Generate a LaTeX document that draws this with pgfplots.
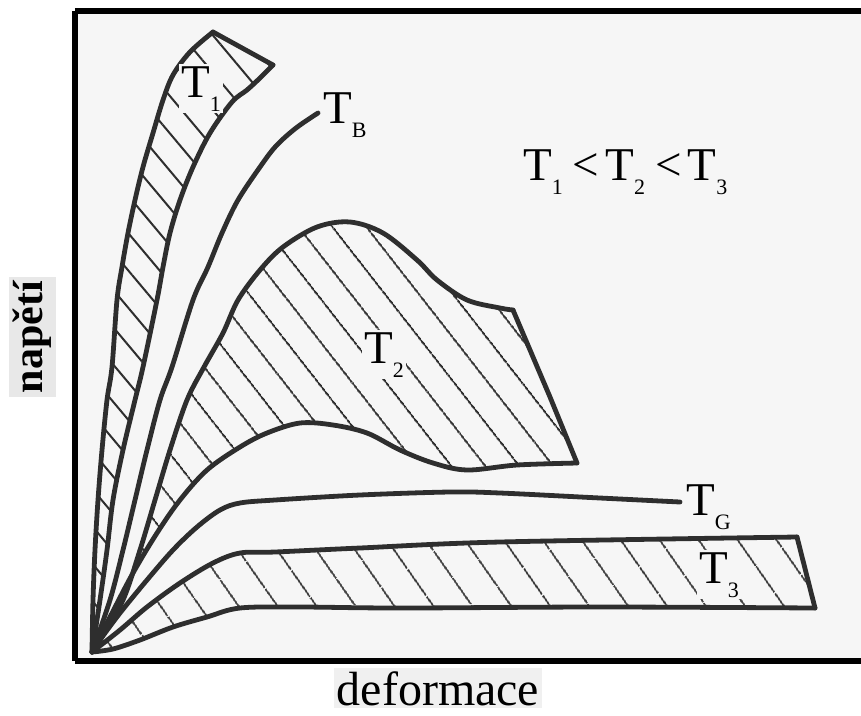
\documentclass[border=0pt]{standalone}
\usepackage{pgfplots}
\pgfplotsset{compat=1.18}
\usepackage{fontspec}
\setmainfont{Liberation Serif}
\usetikzlibrary{patterns.meta}
\definecolor{ink}{HTML}{2E2E2E}
\definecolor{bg}{HTML}{F6F6F6}
\newcommand{\Tl}[1]{T\raisebox{-14pt}{\fontsize{22}{22}\selectfont #1}}
\tikzset{
  curve/.style={ink, line width=4.8pt, smooth, tension=0.55, line cap=round, line join=round},
  edge/.style={ink, line width=4.8pt, line cap=round, line join=round},
  hatch/.style={draw=none, pattern color=ink},
  lab/.style={anchor=base west, fill=bg, inner sep=2pt, font=\fontsize{47}{47}\selectfont},
}

\begin{document}
\begin{tikzpicture}
\useasboundingbox (-75pt,-54pt) rectangle (786pt,661pt);
\begin{axis}[
  at={(0pt,0pt)}, anchor=south west,
  scale only axis, width=786pt, height=650pt,
  xmin=75, xmax=861, ymin=11, ymax=661, y dir=reverse,
  axis x line=box, axis y line=left,
  axis line style={-, line width=5.5pt, black},
  xtick=\empty, ytick=\empty,
  clip=false,
  axis background/.style={fill=bg},
]
% ---------- hatched regions ----------
\addplot[hatch, pattern={Lines[angle=-50, distance=24pt, line width=2pt]}] coordinates {
 (92,652) (93,600) (95,550) (98,500) (102,450) (107,400) (112,367) (117,300) (122,267) (128,233) (135,200) (143,167) (153,133) (163,100) (173,75) (190,52) (213,32)
 (273,65) (260,78) (247,90) (232,102) (210,133) (193,167) (180,200) (170,233) (163,267) (157,300) (143,367) (135,400) (123,450) (113,500) (107,550) (100,600) (92,652)
};
\addplot[hatch, pattern={Lines[angle=-52, distance=27pt, line width=2pt]}] coordinates {
 (92,652) (100,640) (123,600) (140,550) (155,500) (170,450) (187,400) (204,367) (223,333) (238,300) (260,270) (283,247) (317,227) (350,222) (383,233) (417,260) (437,280) (467,300) (500,308) (513,310)
 (550,397) (577,463) (517,465) (467,470) (433,463) (400,450) (367,433) (333,425) (300,423) (267,433) (240,447) (207,470) (180,500) (157,533) (133,573) (110,617) (92,652)
};
\addplot[hatch, pattern={Lines[angle=-55, distance=33pt, line width=2pt]}] coordinates {
 (92,652) (120,630) (147,607) (180,583) (213,563) (240,553) (275,552) (360,548) (500,542) (797,537)
 (815,608) (600,607) (400,608) (300,607) (240,608) (207,617) (173,627) (140,640) (113,649) (92,652)
};
% ---------- T1 band ----------
\addplot[curve] coordinates {
 (92,652) (93,600) (95,550) (98,500) (102,450) (107,400) (112,367) (117,300) (122,267) (128,233) (135,200) (143,167) (153,133) (163,100) (173,75) (190,52) (213,32)};
\addplot[edge] coordinates {(213,32) (273,65)};
\addplot[curve] coordinates {
 (273,65) (260,78) (247,90) (232,102) (210,133) (193,167) (180,200) (170,233) (163,267) (157,300) (143,367) (135,400) (123,450) (113,500) (107,550) (100,600) (92,652)};
% ---------- T_B ----------
\addplot[curve] coordinates {
 (92,652) (110,600) (123,550) (135,500) (147,450) (160,400) (172,367) (193,300) (208,267) (222,233) (238,200) (260,167) (276,146) (296,128) (318,113)};
% ---------- T2 band ----------
\addplot[curve] coordinates {
 (92,652) (100,640) (123,600) (140,550) (155,500) (170,450) (187,400) (204,367) (223,333) (238,300) (260,270) (283,247) (317,227) (350,222) (383,233) (417,260) (437,280) (467,300) (500,308) (513,310)};
\addplot[edge] coordinates {(513,310) (550,397) (577,463)};
\addplot[curve] coordinates {
 (577,463) (517,465) (467,470) (433,463) (400,450) (367,433) (333,425) (300,423) (267,433) (240,447) (207,470) (180,500) (157,533) (133,573) (110,617) (92,652)};
% ---------- T_G ----------
\addplot[curve] coordinates {
 (92,652) (100,640) (120,613) (147,580) (173,550) (197,527) (220,510) (240,503) (275,500) (360,495) (450,492) (500,493) (600,498) (680,502)};
% ---------- T3 band ----------
\addplot[curve] coordinates {
 (92,652) (120,630) (147,607) (180,583) (213,563) (240,553) (275,552) (360,548) (500,542) (797,537)};
\addplot[edge] coordinates {(797,537) (815,608)};
\addplot[curve] coordinates {
 (815,608) (600,607) (400,608) (300,607) (240,608) (207,617) (173,627) (140,640) (113,649) (92,652)};
% ---------- labels ----------
\node[lab] at (axis cs:179,97) {\Tl{1}};
\node[lab] at (axis cs:321,123) {\Tl{B}};
\node[lab] at (axis cs:362,363) {\Tl{2}};
\node[lab] at (axis cs:684,515) {\Tl{G}};
\node[lab] at (axis cs:697,583) {\Tl{3}};
\node[lab] at (axis cs:521,180) {\Tl{1}\hspace{10pt}<\hspace{6pt}\Tl{2}\hspace{10pt}<\hspace{6pt}\Tl{3}};
\node[anchor=base, fill=gray!12, inner sep=3pt, font=\fontsize{48}{48}\selectfont] at (axis cs:438,705) {deformace};
\node[rotate=90, anchor=base, fill=gray!18, inner sep=4pt, font=\bfseries\fontsize{42}{42}\selectfont] at (axis cs:43,337) {napětí};
\end{axis}
\end{tikzpicture}
\end{document}
